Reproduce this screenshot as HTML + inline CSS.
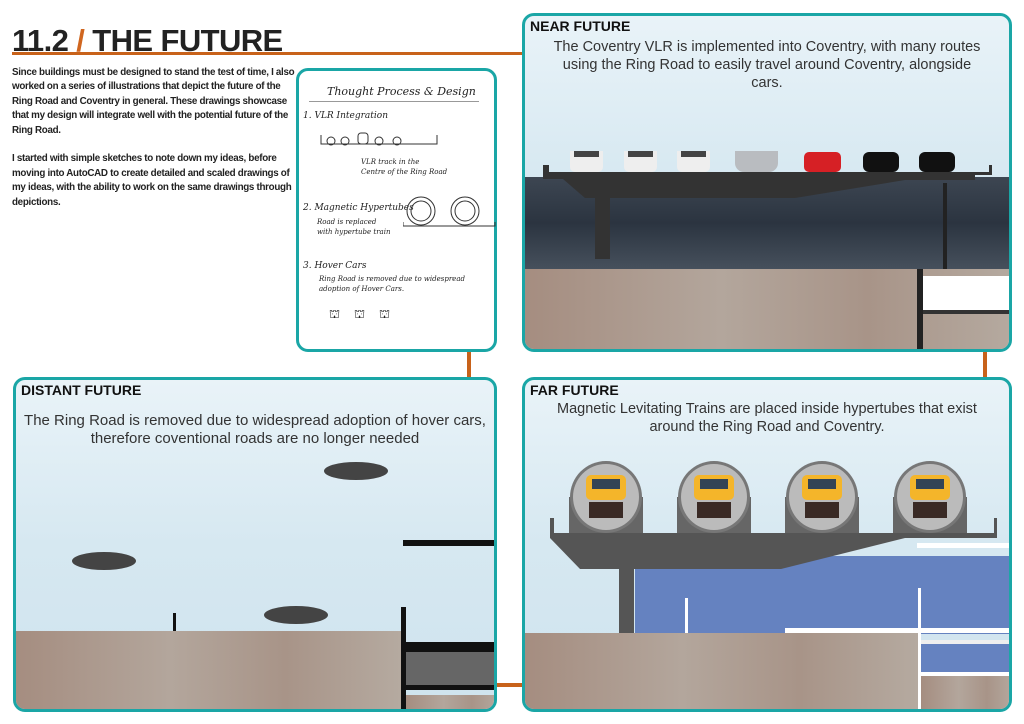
<!DOCTYPE html>
<html><head><meta charset="utf-8"><style>
*{margin:0;padding:0;box-sizing:border-box}
body{width:1024px;height:724px;background:#fff;position:relative;overflow:hidden;font-family:"Liberation Sans",sans-serif}
.a{position:absolute}
.panel{position:absolute;border:3px solid #1aa6a6;border-radius:12px;overflow:hidden;background:linear-gradient(180deg,#e9f3f8 0%,#d6e8f1 50%,#cfe3ee 100%)}
.lab{position:absolute;left:5px;top:2px;font-weight:bold;font-size:14px;color:#111}
.desc{position:absolute;left:0;right:0;text-align:center;font-size:14.5px;line-height:18px;color:#333}
.ground{position:absolute;background:linear-gradient(90deg,#a58d80,#b3a69c 40%,#a89488 70%,#b5aaa0)}
</style></head><body>
<div class="a" style="left:12px;top:23px;font-size:31px;font-weight:bold;color:#222;letter-spacing:-0.6px">11.2 <span style="color:#d0661f">/</span> THE FUTURE</div>
<div class="a" style="left:12px;top:52px;width:510px;height:3px;background:#c8621a"></div>
<div class="a" style="left:12px;top:66px;width:283px;font-size:9.8px;line-height:14.4px;font-weight:bold;color:#222;letter-spacing:-0.3px">Since buildings must be designed to stand the test of time, I also worked on a series of illustrations that depict the future of the Ring Road and Coventry in general. These drawings showcase that my design will integrate well with the potential future of the Ring Road.<br><br>I started with simple sketches to note down my ideas, before moving into AutoCAD to create detailed and scaled drawings of my ideas, with the ability to work on the same drawings through depictions.</div>
<!-- connectors -->
<div class="a" style="left:467px;top:350px;width:4px;height:30px;background:#c8621a"></div>
<div class="a" style="left:983px;top:350px;width:4px;height:30px;background:#c8621a"></div>
<div class="a" style="left:495px;top:683px;width:30px;height:4px;background:#c8621a"></div>
<!-- sketch -->
<div class="a" style="left:296px;top:68px;width:201px;height:284px;border:3px solid #1aa6a6;border-radius:12px;background:#fff;font-family:'DejaVu Serif',serif;font-style:italic;color:#222;font-size:9px">
<div class="a" style="left:28px;top:14px;font-size:11px">Thought Process &amp; Design</div>
<div class="a" style="left:10px;top:30px;width:170px;height:1px;background:#999"></div>
<div class="a" style="left:4px;top:40px">1. VLR Integration</div>
<svg class="a" style="left:20px;top:60px" width="120" height="20"><path d="M2 4v9h116V4" stroke="#333" fill="none"/><g fill="none" stroke="#333"><circle cx="12" cy="10" r="4"/><circle cx="26" cy="10" r="4"/><rect x="39" y="2" width="10" height="11" rx="3"/><circle cx="60" cy="10" r="4"/><circle cx="78" cy="10" r="4"/></g></svg>
<div class="a" style="left:62px;top:86px;font-size:7px;line-height:10px">VLR track in the<br>Centre of the Ring Road</div>
<div class="a" style="left:4px;top:132px">2. Magnetic Hypertubes</div>
<div class="a" style="left:18px;top:146px;font-size:7px;line-height:10px">Road is replaced<br>with hypertube train</div>
<svg class="a" style="left:104px;top:122px" width="96" height="50"><g fill="none" stroke="#333"><circle cx="18" cy="18" r="14"/><circle cx="18" cy="18" r="10"/><circle cx="62" cy="18" r="14"/><circle cx="62" cy="18" r="10"/><path d="M0 33h92v-4"/><path d="M0 33v-4"/></g></svg>
<div class="a" style="left:4px;top:190px">3. Hover Cars</div>
<div class="a" style="left:20px;top:203px;font-size:7px;line-height:10px">Ring Road is removed due to widespread<br>adoption of Hover Cars.</div>
<div class="a" style="left:30px;top:236px;font-size:12px;letter-spacing:14px;font-style:normal">⛫⛫⛫</div>
</div>
<!-- near future -->
<div class="panel" style="left:522px;top:13px;width:490px;height:339px">
<div class="lab">NEAR FUTURE</div>
<div class="desc" style="top:22px">The Coventry VLR is implemented into Coventry, with many routes<br>using the Ring Road to easily travel around Coventry, alongside<br>cars.</div>
<div class="a" style="left:0;top:161px;width:490px;height:92px;background:linear-gradient(180deg,#3d4652,#2b3440 50%,#46505c)"></div>
<svg class="a" style="left:0;top:135px" width="490" height="200">
<path d="M18 14h6v7h440v-7h3v10H450v5H380l-110 18H60L38 28H18z" fill="#333"/>
<rect x="70" y="46" width="15" height="62" fill="#333"/>
<rect x="418" y="32" width="4" height="170" fill="#222"/>
<g>
<rect x="45" y="-5" width="33" height="26" rx="5" fill="#eee"/><rect x="49" y="-1" width="25" height="7" fill="#444"/>
<rect x="99" y="-5" width="33" height="26" rx="5" fill="#eee"/><rect x="103" y="-1" width="25" height="7" fill="#444"/>
<rect x="152" y="-5" width="33" height="26" rx="5" fill="#eee"/><rect x="156" y="-1" width="25" height="7" fill="#444"/>
<rect x="210" y="-22" width="43" height="43" rx="9" fill="#b9bcc0"/><rect x="215" y="-16" width="33" height="12" fill="#555"/>
<rect x="279" y="1" width="37" height="20" rx="5" fill="#d62025"/>
<rect x="338" y="1" width="36" height="20" rx="6" fill="#111"/>
<rect x="394" y="1" width="36" height="20" rx="6" fill="#111"/>
</g>
</svg>
<div class="ground" style="left:0;top:253px;width:490px;height:86px"></div>
<div class="a" style="left:392px;top:253px;width:6px;height:86px;background:#222"></div>
<div class="a" style="left:398px;top:260px;width:92px;height:38px;background:#fff;border-bottom:4px solid #333"></div>
</div>
<!-- distant future -->
<div class="panel" style="left:13px;top:377px;width:484px;height:335px">
<div class="lab">DISTANT FUTURE</div>
<div class="desc" style="top:32px;font-size:15px">The Ring Road is removed due to widespread adoption of hover cars,<br>therefore coventional roads are no longer needed</div>
<svg class="a" style="left:0;top:0" width="484" height="335">
<g fill="#444"><ellipse cx="340" cy="91" rx="32" ry="9"/><ellipse cx="88" cy="181" rx="32" ry="9"/><ellipse cx="280" cy="235" rx="32" ry="9"/></g>
<g fill="#111"><rect x="72" y="253" width="3" height="17"/><rect x="157" y="233" width="3" height="37"/><rect x="387" y="160" width="97" height="6"/><rect x="385" y="227" width="5" height="108"/><rect x="253" y="262" width="231" height="10"/></g>
</svg>
<div class="ground" style="left:0;top:251px;width:385px;height:84px"></div>
<div class="a" style="left:390px;top:272px;width:94px;height:38px;background:#666;border-bottom:5px solid #111"></div>
<div class="ground" style="left:390px;top:315px;width:94px;height:20px"></div>
</div>
<!-- far future -->
<div class="panel" style="left:522px;top:377px;width:490px;height:335px">
<div class="lab">FAR FUTURE</div>
<div class="desc" style="top:20px">Magnetic Levitating Trains are placed inside hypertubes that exist<br>around the Ring Road and Coventry.</div>
<svg class="a" style="left:0;top:0" width="490" height="335">
<rect x="110" y="176" width="380" height="78" fill="#6582c0"/>
<path d="M25 138h4v15h440v-15h3v20H380l-124 31H55L25 158z" fill="#555"/>
<rect x="94" y="189" width="15" height="65" fill="#555"/>
<g>
<g transform="translate(81,117)"><rect x="-37" y="0" width="74" height="36" fill="#666"/><circle r="36" fill="#777"/><circle r="33" fill="#bbb"/><rect x="-20" y="-22" width="40" height="25" rx="5" fill="#f4b52a"/><rect x="-14" y="-18" width="28" height="10" fill="#345"/><rect x="-17" y="5" width="34" height="16" fill="#3a2a25"/></g>
<g transform="translate(189,117)"><rect x="-37" y="0" width="74" height="36" fill="#666"/><circle r="36" fill="#777"/><circle r="33" fill="#bbb"/><rect x="-20" y="-22" width="40" height="25" rx="5" fill="#f4b52a"/><rect x="-14" y="-18" width="28" height="10" fill="#345"/><rect x="-17" y="5" width="34" height="16" fill="#3a2a25"/></g>
<g transform="translate(297,117)"><rect x="-37" y="0" width="74" height="36" fill="#666"/><circle r="36" fill="#777"/><circle r="33" fill="#bbb"/><rect x="-20" y="-22" width="40" height="25" rx="5" fill="#f4b52a"/><rect x="-14" y="-18" width="28" height="10" fill="#345"/><rect x="-17" y="5" width="34" height="16" fill="#3a2a25"/></g>
<g transform="translate(405,117)"><rect x="-37" y="0" width="74" height="36" fill="#666"/><circle r="36" fill="#777"/><circle r="33" fill="#bbb"/><rect x="-20" y="-22" width="40" height="25" rx="5" fill="#f4b52a"/><rect x="-14" y="-18" width="28" height="10" fill="#345"/><rect x="-17" y="5" width="34" height="16" fill="#3a2a25"/></g>
</g>
<rect x="392" y="163" width="98" height="5" fill="#fff"/>
<rect x="393" y="208" width="3" height="127" fill="#fff"/>
<rect x="160" y="218" width="3" height="36" fill="#fff"/>
<rect x="260" y="248" width="230" height="5" fill="#fff"/>
</svg>
<div class="ground" style="left:0;top:253px;width:393px;height:82px"></div>
<div class="a" style="left:396px;top:260px;width:94px;height:36px;background:#6582c0;border-bottom:4px solid #fff;border-top:4px solid #eee"></div>
<div class="ground" style="left:396px;top:296px;width:94px;height:39px"></div>
</div>
</body></html>
